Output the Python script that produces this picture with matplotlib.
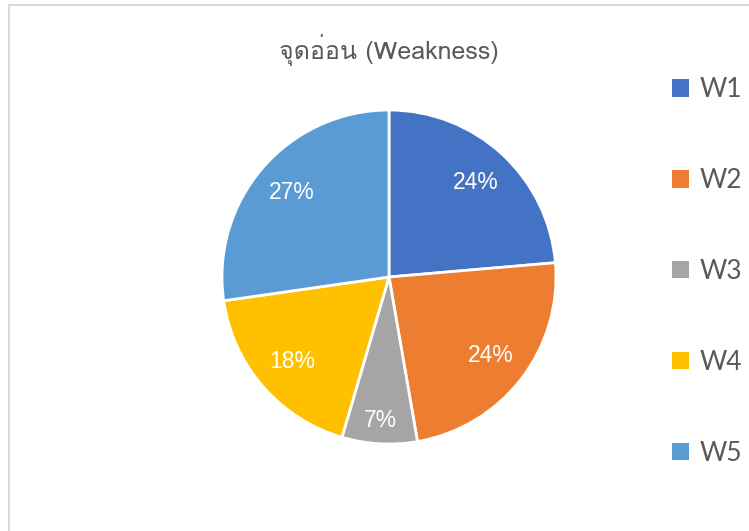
import numpy as np
import matplotlib
matplotlib.use('Agg')
import matplotlib.pyplot as plt
from matplotlib import font_manager
from matplotlib.ft2font import FT2Font
from matplotlib.patches import Rectangle

labels = ['W1', 'W2', 'W3', 'W4', 'W5']
counts = [13, 13, 4, 10, 15]
colors = ['#4472C4', '#ED7D31', '#A5A5A5', '#FFC000', '#5B9BD5']
title = 'จุดอ่อน (Weakness)'


def thai_font():
    # look for any installed font that has Thai glyphs
    for f in font_manager.fontManager.ttflist:
        try:
            if 0x0E08 in FT2Font(f.fname).get_charmap():
                return f.name
        except Exception:
            pass
    return 'DejaVu Sans'


W, H = 749, 531
fig = plt.figure(figsize=(W / 100, H / 100), dpi=100)

# chart frame (cut off at right/bottom like the screenshot)
fig.patches.append(Rectangle((9 / W, -0.1), 1.2, 1.1 - 5 / H, transform=fig.transFigure,
                             fill=False, edgecolor='#d9d9d9', lw=1.5))

cx, cy, r = 389, 277, 167
ax = fig.add_axes([(cx - r) / W, (H - cy - r) / H, 2 * r / W, 2 * r / H])
wedges, texts, autotexts = ax.pie(counts, colors=colors, startangle=90, counterclock=False,
                                  autopct='%.0f%%', pctdistance=0.77,
                                  wedgeprops=dict(edgecolor='white', linewidth=2, clip_on=False),
                                  textprops=dict(color='white', fontsize=16.5, family='Liberation Sans'))
ax.set_xlim(-1, 1)
ax.set_ylim(-1, 1)

# small slice label sits further out
x, y = autotexts[2].get_position()
autotexts[2].set_position((x * 0.86 / 0.77, y * 0.86 / 0.77))

fig.text(389 / W, 1 - 50 / H, title, ha='center', va='center', fontsize=18,
         color='#595959', family=[thai_font(), 'DejaVu Sans'])

leg = fig.legend(wedges, labels, loc='upper left', bbox_to_anchor=(672 / W, 1 - 77 / H),
                 frameon=False, fontsize=19, handlelength=0.65, handleheight=0.65,
                 handletextpad=0.4, labelspacing=2.5, borderpad=0, borderaxespad=0)
for t in leg.get_texts():
    t.set_color('#595959')
    t.set_family('Lato')
for h in leg.legend_handles:
    h.set_edgecolor('none')

fig.savefig('out.png', dpi=100)
